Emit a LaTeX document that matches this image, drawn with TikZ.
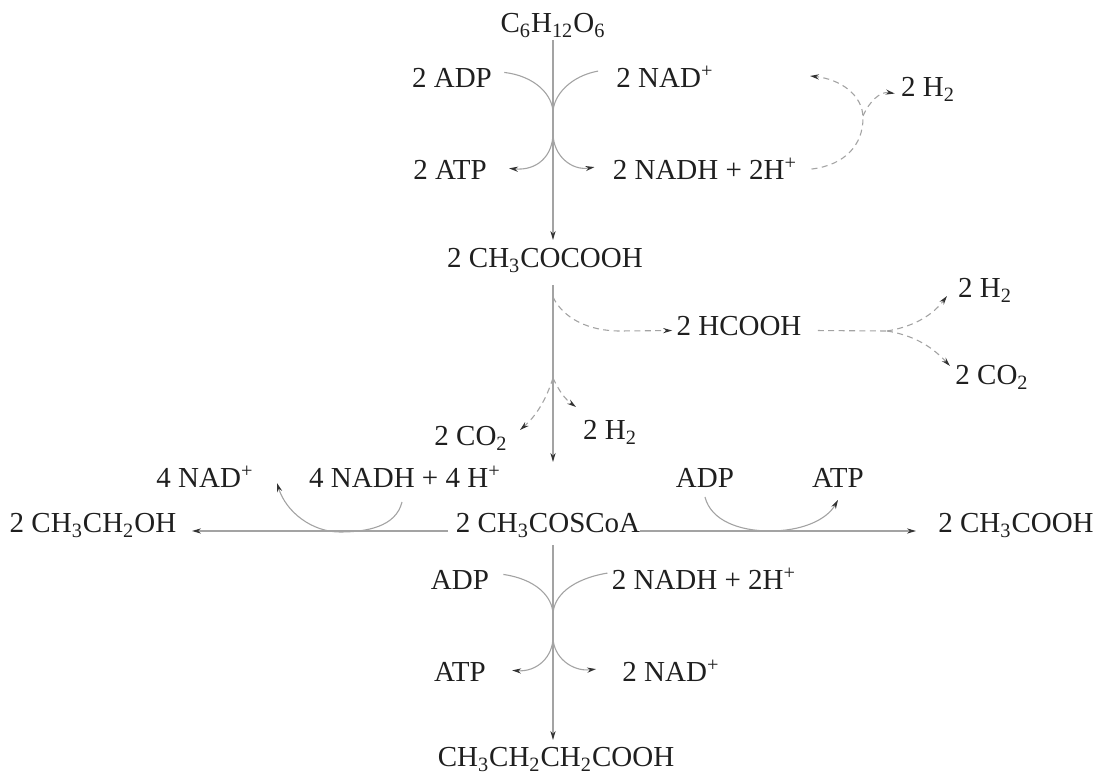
\documentclass[tikz,border=0pt]{standalone}
\usepackage{fontspec}
\setmainfont{Liberation Serif}
\usetikzlibrary{arrows.meta}
\newcommand{\sbs}[1]{\textsubscript{#1}}
\newcommand{\sps}[1]{\textsuperscript{#1}}
\begin{document}
\begin{tikzpicture}[x=0.5pt,y=-0.5pt,
  chem/.style={font=\fontsize{14.5}{16}\selectfont, text=black!88, inner sep=1pt, anchor=base},
  ln/.style={draw=black!36, line width=0.55pt},
  arr/.style={ln, -{Stealth[length=4.5pt,width=2.6pt,color=black!80]}},
  dsh/.style={dash pattern=on 3pt off 2.2pt}
]
\useasboundingbox (0,0) rectangle (1100,774);

% nodes
\node[chem] (glc) at (553,33) {C\sbs{6}H\sbs{12}O\sbs{6}};
\node[chem] (adp1) at (452,88) {2 ADP};
\node[chem] (nad1) at (665,88) {2 NAD\sps{+}};
\node[chem] (atp1) at (450,180) {2 ATP};
\node[chem] (nadh1) at (705,180) {2 NADH + 2H\sps{+}};
\node[chem] (h2a) at (928,97) {2 H\sbs{2}};
\node[chem] (pyr) at (545,268) {2 CH\sbs{3}COCOOH};
\node[chem] (form) at (739,336) {2 HCOOH};
\node[chem] (h2b) at (985,298) {2 H\sbs{2}};
\node[chem] (co2b) at (992,385) {2 CO\sbs{2}};
\node[chem] (co2a) at (471,446) {2 CO\sbs{2}};
\node[chem] (h2c) at (610,440) {2 H\sbs{2}};
\node[chem] (nad4) at (205,488) {4 NAD\sps{+}};
\node[chem] (nadh4) at (405,488) {4 NADH + 4 H\sps{+}};
\node[chem] (adp2) at (705,488) {ADP};
\node[chem] (atp2) at (838,488) {ATP};
\node[chem] (etoh) at (93,533) {2 CH\sbs{3}CH\sbs{2}OH};
\node[chem] (acoa) at (548,533) {2 CH\sbs{3}COSCoA};
\node[chem] (ac) at (1016,533) {2 CH\sbs{3}COOH};
\node[chem] (adp3) at (460,590) {ADP};
\node[chem] (nadh3) at (704,590) {2 NADH + 2H\sps{+}};
\node[chem] (atp3) at (460,682) {ATP};
\node[chem] (nad3) at (671,682) {2 NAD\sps{+}};
\node[chem] (but) at (556,767) {CH\sbs{3}CH\sbs{2}CH\sbs{2}COOH};

% junction coordinates
\coordinate (t1) at (553,40);
\coordinate (t2) at (553,240);
\coordinate (j1) at (553,113);
\coordinate (j2) at (553,133);
\coordinate (m1) at (553,285);
\coordinate (m2) at (553,462);
\coordinate (m3) at (553,378);
\coordinate (b1) at (553,545);
\coordinate (b2) at (553,740);
\coordinate (k1) at (553,615);
\coordinate (k2) at (553,637);
\coordinate (hl) at (448,531);
\coordinate (hr) at (640,531);
\coordinate (el) at (192,531);
\coordinate (er) at (916,531);

% main vertical arrows
\draw[arr] (t1) -- (t2);
\draw[arr] (m1) -- (m2);
\draw[arr] (b1) -- (b2);
% horizontal arrows
\draw[arr] (hl) -- (el);
\draw[arr] (hr) -- (er);

% top exchange curves
\draw[ln] ([xshift=5pt,yshift=3pt]adp1.east) .. controls (535,76) and (553,95) .. (j1);
\draw[ln] ([xshift=-8pt,yshift=3pt]nad1.west) .. controls (571,76) and (553,95) .. (j1);
\draw[arr] (j2) .. controls (553,156) and (537,171) .. ([xshift=10pt,yshift=1pt]atp1.east);
\draw[arr] (j2) .. controls (553,156) and (572,171) .. ([xshift=-8pt,yshift=1pt]nadh1.west);

% top dashed recycle
\draw[arr,dsh] ([xshift=6pt,yshift=0pt]nadh1.east) .. controls (845,165) and (863,145) .. (863,118)
   .. controls (863,95) and (840,79) .. (810,76);
\draw[arr,dsh] (863,116) .. controls (869,102) and (880,91) .. ([xshift=-2pt,yshift=-2pt]h2a.west);

% pyruvate -> formate
\draw[arr,dsh] ([yshift=-6pt]m1) .. controls (563,318) and (588,331) .. (620,331) -- ([xshift=-1pt,yshift=-2pt]form.west);
\coordinate (fs) at (887,331);
\draw[ln,dsh] ([xshift=7pt,yshift=-2pt]form.east) -- (fs);
\draw[arr,dsh] (fs) .. controls (918,326) and (935,312) .. (947,296);
\draw[arr,dsh] (fs) .. controls (918,336) and (935,350) .. (950,366);

% pyruvate -> acetyl-CoA side products
\draw[arr,dsh] (m3) .. controls (546,400) and (536,416) .. (520,430);
\draw[arr,dsh] (m3) .. controls (559,391) and (565,399) .. (576,407);

% left arc (NADH -> NAD+)
\draw[arr] (402,502) .. controls (396,527) and (366,532) .. (340,532)
   .. controls (312,532) and (286,512) .. (277,483);
% right arc (ADP -> ATP)
\draw[arr] (705,497) .. controls (711,521) and (740,531) .. (770,531)
   .. controls (800,531) and (826,521) .. (838,500);

% bottom exchange curves
\draw[ln] ([xshift=6pt,yshift=3pt]adp3.east) .. controls (535,579) and (553,596) .. (k1);
\draw[ln] ([xshift=-1pt,yshift=3pt]nadh3.west) .. controls (572,579) and (553,596) .. (k1);
\draw[arr] (k2) .. controls (553,657) and (537,672) .. ([xshift=12pt,yshift=1pt]atp3.east);
\draw[arr] (k2) .. controls (553,657) and (572,672) .. ([xshift=-12pt,yshift=1pt]nad3.west);
\end{tikzpicture}
\end{document}
